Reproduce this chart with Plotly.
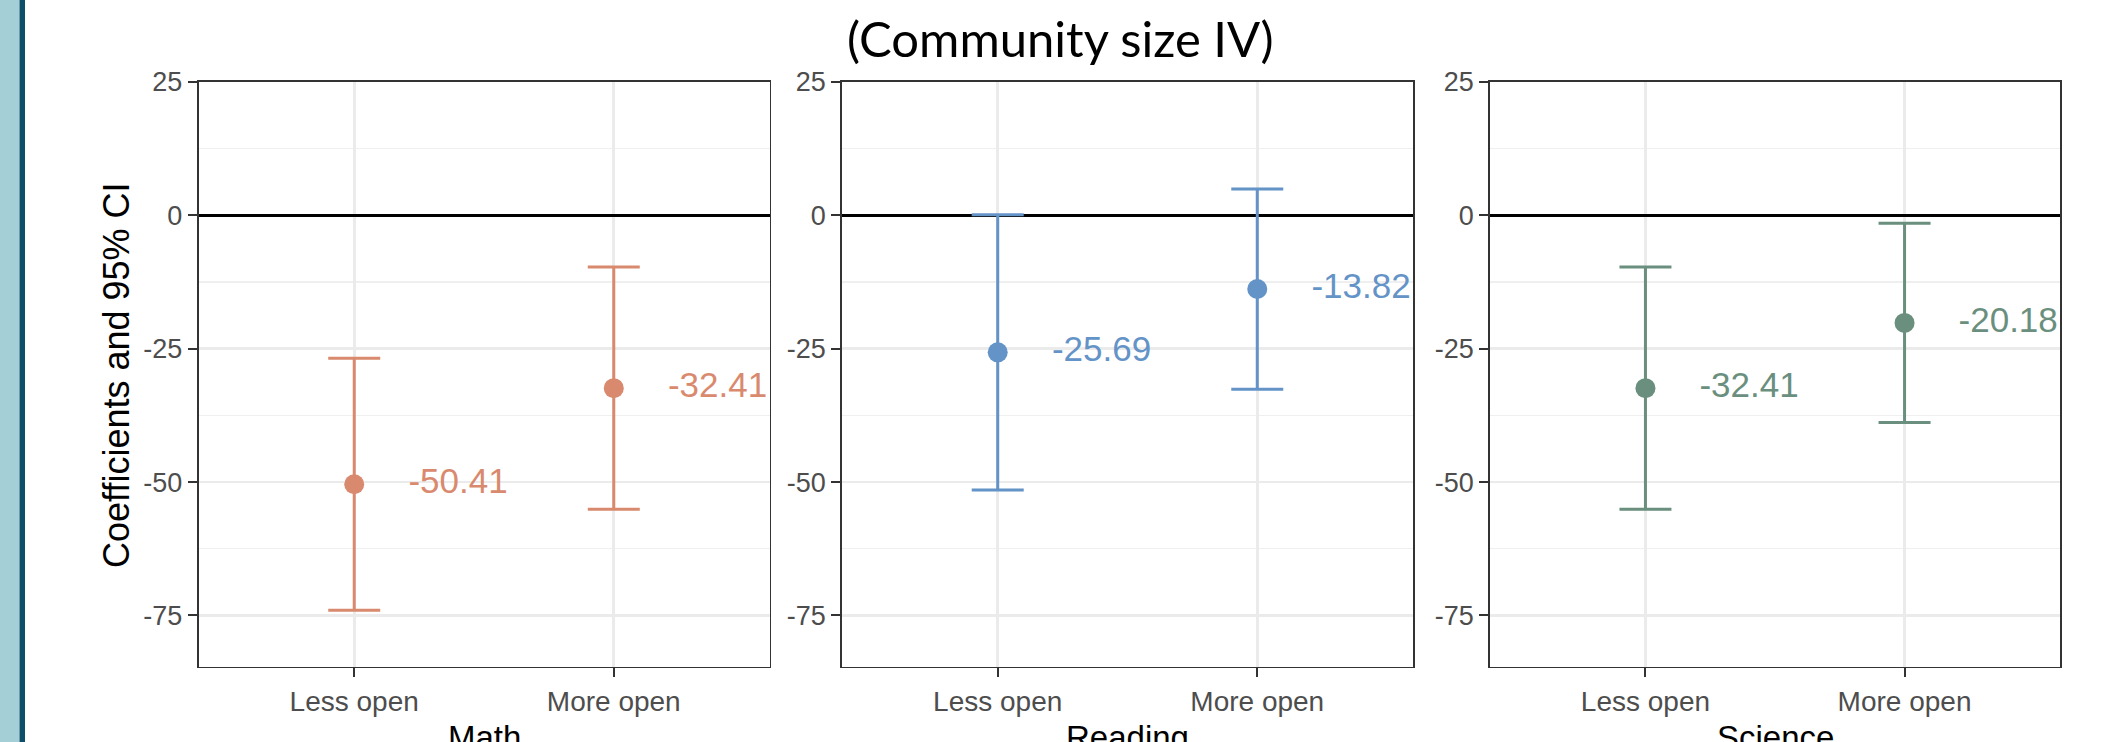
import plotly.graph_objects as go

# ---------------- data ----------------
categories = ["Less open", "More open"]
subjects = ["Math", "Reading", "Science"]

math_est = [-50.41, -32.41]
math_lower = [-74.0, -55.1]
math_upper = [-26.8, -9.7]

reading_est = [-25.69, -13.82]
reading_lower = [-51.5, -32.6]
reading_upper = [0.1, 4.9]

science_est = [-32.41, -20.18]
science_lower = [-55.1, -38.85]
science_upper = [-9.7, -1.5]

y_ticks = [-75, -50, -25, 0, 25]
y_minor = [-62.5, -37.5, -12.5, 12.5]

title_text = "(Community size IV)"
y_title = "Coefficients and 95% CI"

colors = ["#D98A6E", "#6393C7", "#6A8F7E"]

series = [
    (math_est, math_lower, math_upper),
    (reading_est, reading_lower, reading_upper),
    (science_est, science_lower, science_upper),
]

# ---------------- layout geometry ----------------
W, H = 2120, 742
panels_px = [(198.5, 769.5), (842.0, 1413.0), (1490.0, 2060.0)]
top_px, bot_px = 81.7, 666.7
ydom = [1 - bot_px / H, 1 - top_px / H]

fig = go.Figure()

pos = list(range(len(categories)))
label_nudge = 0.4

for i, (subj, (est, lo, hi)) in enumerate(zip(subjects, series)):
    sfx = "" if i == 0 else str(i + 1)
    col = colors[i]
    fig.add_trace(go.Scatter(
        x=pos, y=est, mode="markers",
        marker=dict(size=20, color=col),
        error_y=dict(type="data", symmetric=False,
                     array=[h - e for h, e in zip(hi, est)],
                     arrayminus=[e - l for e, l in zip(est, lo)],
                     color=col, thickness=3, width=26),
        xaxis="x" + sfx, yaxis="y" + sfx, showlegend=False, hoverinfo="skip",
    ))
    fig.add_trace(go.Scatter(
        x=[p + label_nudge for p in pos], y=est, mode="text",
        text=[f"{v:.2f}" for v in est],
        textposition="middle center",
        textfont=dict(family="Liberation Sans, Arial, sans-serif", size=35, color=col),
        cliponaxis=True,
        xaxis="x" + sfx, yaxis="y" + sfx, showlegend=False, hoverinfo="skip",
    ))

    x0, x1 = panels_px[i]
    axis_common = dict(
        showline=True, mirror=True, linecolor="#333333", linewidth=1.7,
        ticks="outside", ticklen=9, tickwidth=2, tickcolor="#333333",
        showgrid=True, gridcolor="#EBEBEB", gridwidth=2.7,
    )
    fig.layout["xaxis" + sfx] = dict(
        domain=[x0 / W, x1 / W], anchor="y" + sfx,
        range=[-0.6, len(categories) - 1 + 0.6],
        tickvals=pos, ticktext=categories, zeroline=False,
        tickfont=dict(family="Liberation Sans, Arial, sans-serif", size=28, color="#4D4D4D"),
        **axis_common,
    )
    fig.layout["yaxis" + sfx] = dict(
        domain=ydom, anchor="x" + sfx,
        range=[-84.6, 25.02], tickvals=y_ticks,
        ticktext=[str(t) for t in y_ticks],
        zeroline=True, zerolinecolor="#000000", zerolinewidth=3,
        minor=dict(showgrid=True, tickvals=y_minor, gridcolor="#EFEFEF", gridwidth=1.4, ticks=""),
        tickfont=dict(family="Liberation Sans, Arial, sans-serif", size=27, color="#4D4D4D"),
        **axis_common,
    )
    # x-axis title (subject)
    fig.add_annotation(
        x=(x0 + x1) / 2 / W, y=1 - 717 / H, xref="paper", yref="paper",
        text=subj, showarrow=False, xanchor="center", yanchor="top",
        font=dict(family="Liberation Sans, Arial, sans-serif", size=33, color="#000000"),
    )

# y-axis title
fig.add_annotation(
    x=116 / W, y=1 - 375 / H, xref="paper", yref="paper",
    text=y_title, showarrow=False, textangle=-90,
    xanchor="center", yanchor="middle",
    font=dict(family="Liberation Sans, Arial, sans-serif", size=36, color="#000000"),
)

# main title
fig.add_annotation(
    x=1060.5 / W, y=1 - 38 / H, xref="paper", yref="paper",
    text=title_text, showarrow=False, xanchor="center", yanchor="middle",
    font=dict(family="Lato, Open Sans, sans-serif", size=49, color="#000000"),
)

# left decorative bars
fig.add_shape(type="rect", xref="paper", yref="paper", x0=0, x1=19.5 / W, y0=0, y1=1,
              fillcolor="#A5CFD6", line=dict(width=0), layer="below")
fig.add_shape(type="rect", xref="paper", yref="paper", x0=19.5 / W, x1=25 / W, y0=0, y1=1,
              fillcolor="#0D4F6A", line=dict(width=0), layer="below")

fig.update_layout(
    width=W, height=H,
    margin=dict(l=0, r=0, t=0, b=0, autoexpand=False),
    paper_bgcolor="white", plot_bgcolor="white",
    showlegend=False, hovermode=False,
)

fig.write_html(
    "out.html",
    config={"displayModeBar": False, "staticPlot": True},
    post_script="document.body.style.margin='0';document.body.style.overflow='hidden';",
)
